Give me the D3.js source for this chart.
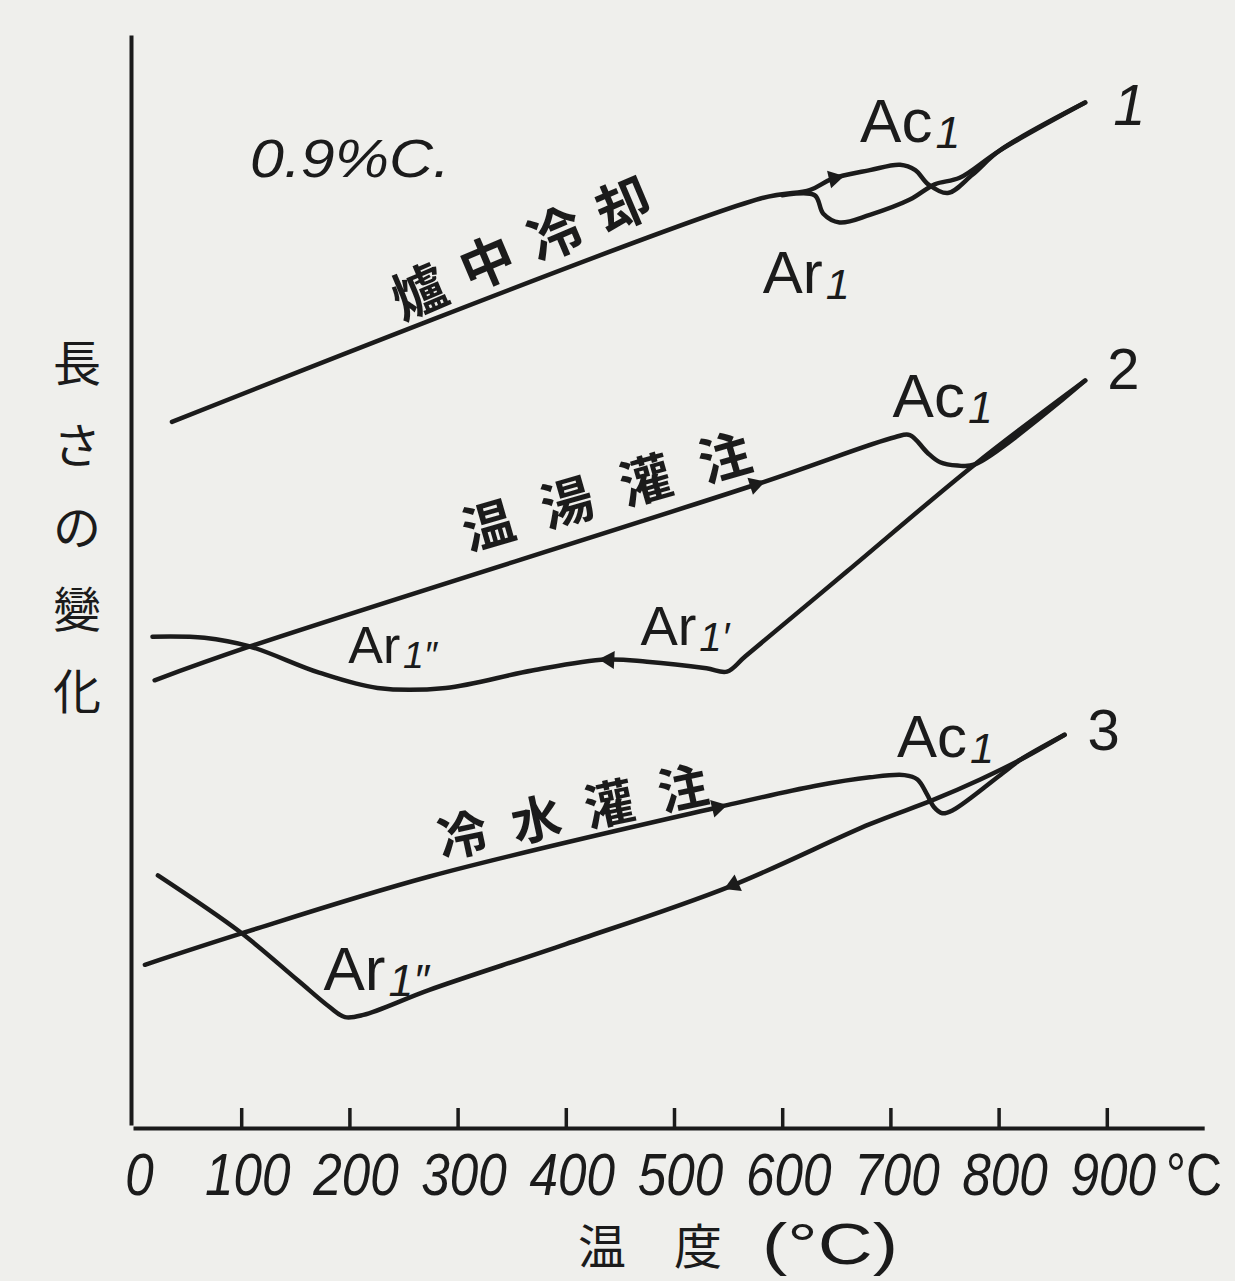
<!DOCTYPE html>
<html>
<head>
<meta charset="utf-8">
<script src="https://cdn.jsdelivr.net/npm/d3@7"></script>
<style>
  html, body { margin: 0; padding: 0; background: #efefec; }
  svg { display: block; }
</style>
</head>
<body>
<div id="chart"></div>
<script>
// temperature axis ticks (°C)
const tempTicks = [0, 100, 200, 300, 400, 500, 600, 700, 800, 900];

// curve 1 : furnace cooling  [temperature, length change (arb.)]
const furnaceHeat = [[36, 64.5], [580, 85.0], [626, 85.8], [646, 86.8], [681, 87.6], [709, 88.1], [723, 87.6],
                     [735, 86.3], [753, 85.5], [776, 87.2], [801, 89.4], [880, 93.8]];
const furnaceCool = [[880, 93.8], [801, 89.4], [764, 86.9], [741, 86.3], [718, 84.9], [681, 83.5], [653, 82.8],
                     [638, 83.6], [630, 85.3], [600, 85.3]];

// curve 2 : warm water quench
const warmHeat = [[20, 40.8], [108, 43.9], [580, 58.9], [704, 63.1], [718, 63.3], [734, 61.7], [746, 60.8],
                  [762, 60.5], [778, 60.6], [880, 68.3]];
const warmCool = [[880, 68.3], [778, 60.6], [660, 50.8], [566, 43.0], [549, 41.6], [530, 41.9], [475, 42.5],
                  [437, 42.7], [369, 41.7], [289, 40.1], [226, 40.1], [172, 41.5], [108, 43.9], [66, 44.7], [18, 44.8]];

// curve 3 : cold water quench
const coldHeat = [[11, 14.7], [101, 17.6], [274, 22.8], [543, 29.2], [630, 31.1], [681, 31.9], [713, 32.1],
                  [725, 31.7], [734, 30.3], [740, 29.2], [748, 28.6], [758, 28.9], [804, 32.3], [820, 33.5], [861, 35.8]];
const coldCool = [[861, 35.8], [820, 33.5], [783, 31.7], [739, 29.8], [681, 27.6], [552, 21.9], [400, 16.6],
                  [274, 12.4], [213, 10.1], [196, 9.9], [182, 10.8], [152, 13.3], [99, 17.7], [23, 22.9]];

const curveNames = ["1", "2", "3"];
const curveLabels = ["爐中冷却", "温湯灌注", "冷水灌注"];
const yLabelChars = ["長", "さ", "の", "變", "化"];

const W = 1235, H = 1281;
const ink = "#1b1b1b";

const svg = d3.select("#chart").append("svg")
    .attr("width", W)
    .attr("height", H)
    .style("background", "#efefec");

var x = d3.scaleLinear().domain([0, 990]).range([133, 133 + 990 * 1.082]);
var y = d3.scaleLinear().domain([0, 100]).range([1125, 35]);

// x axis (ticks point up)
var xAxis = svg.append("g")
    .attr("transform", `translate(0,${y(0) + 3})`)
    .call(d3.axisBottom(x).tickValues(tempTicks).tickSizeInner(-20).tickSizeOuter(0).tickFormat(d3.format("d")));
xAxis.select(".domain").attr("stroke", ink).attr("stroke-width", 4);
xAxis.selectAll(".tick line").attr("stroke", ink).attr("stroke-width", 3.5);
xAxis.selectAll(".tick text")
    .attr("fill", ink)
    .attr("font-family", "'Liberation Sans', Arial, sans-serif")
    .attr("font-style", "italic")
    .attr("font-size", 60)
    .attr("y", 67).attr("dy", 0)
    .attr("dx", 6)
    .attr("textLength", d => String(d).length * 28.5)
    .attr("lengthAdjust", "spacingAndGlyphs");
xAxis.select(".tick line").attr("opacity", 0); // no tick at origin

svg.append("text")
    .attr("x", 1166).attr("y", y(0) + 70)
    .attr("fill", ink)
    .attr("font-family", "'Liberation Sans', Arial, sans-serif")
    .attr("font-size", 60)
    .attr("textLength", 56).attr("lengthAdjust", "spacingAndGlyphs")
    .text("°C");

// y axis (no ticks)
var yAxis = svg.append("g")
    .attr("transform", `translate(${x(0) - 2},0)`)
    .call(d3.axisLeft(y).ticks(0).tickSizeOuter(0));
yAxis.select(".domain").attr("stroke", ink).attr("stroke-width", 4);

// axis titles
svg.append("text")
    .attr("x", 578).attr("y", 1264)
    .attr("fill", ink)
    .attr("font-family", "'Noto Sans CJK JP', sans-serif")
    .attr("font-size", 48)
    .text("温　度");
svg.append("text")
    .attr("x", 762).attr("y", 1264)
    .attr("fill", ink)
    .attr("font-family", "'Liberation Sans', Arial, sans-serif")
    .attr("font-size", 58)
    .attr("textLength", 136).attr("lengthAdjust", "spacingAndGlyphs")
    .text("(°C)");

svg.append("g").selectAll("text")
    .data(yLabelChars)
  .enter().append("text")
    .attr("x", 77)
    .attr("y", (d, i) => 360 + i * 82)
    .attr("text-anchor", "middle")
    .attr("dominant-baseline", "central")
    .attr("fill", ink)
    .attr("font-family", "'Noto Sans CJK JP', sans-serif")
    .attr("font-size", 48)
    .text(d => d);

// curves
var line = d3.line()
    .x(d => x(d[0]))
    .y(d => y(d[1]))
    .curve(d3.curveCatmullRom.alpha(0.5));

const series = { furnaceHeat, furnaceCool, warmHeat, warmCool, coldHeat, coldCool };

svg.append("g").selectAll("path")
    .data(Object.values(series))
  .enter().append("path")
    .attr("fill", "none")
    .attr("stroke", ink)
    .attr("stroke-width", 4.5)
    .attr("stroke-linejoin", "round")
    .attr("stroke-linecap", "round")
    .attr("d", line);

// direction arrows along the curves
function pointAt(pts, T) {
  for (let i = 0; i < pts.length - 1; i++) {
    const a = pts[i], b = pts[i + 1];
    if (a[0] !== b[0] && (T - a[0]) * (T - b[0]) <= 0) {
      const t = (T - a[0]) / (b[0] - a[0]);
      return {
        px: x(T), py: y(a[1] + t * (b[1] - a[1])),
        ang: Math.atan2(y(b[1]) - y(a[1]), x(b[0]) - x(a[0])) * 180 / Math.PI
      };
    }
  }
}
const arrows = [["furnaceHeat", 648], ["warmHeat", 575], ["warmCool", 440], ["coldHeat", 540], ["coldCool", 555]];
svg.append("g").selectAll("path")
    .data(arrows.map(a => pointAt(series[a[0]], a[1])))
  .enter().append("path")
    .attr("d", d3.symbol().type(d3.symbolTriangle).size(140))
    .attr("fill", ink)
    .attr("transform", d => `translate(${d.px},${d.py}) rotate(${d.ang + 90})`);

// curve numbers at the right end of each heating curve
const ends = [furnaceHeat, warmHeat, coldHeat].map(s => s[s.length - 1]);
const numOffset = [[28, 22], [22, 8], [23, 15]];
svg.append("g").selectAll("text")
    .data(curveNames)
  .enter().append("text")
    .attr("x", (d, i) => x(ends[i][0]) + numOffset[i][0])
    .attr("y", (d, i) => y(ends[i][1]) + numOffset[i][1])
    .attr("fill", ink)
    .attr("font-family", "'Liberation Sans', Arial, sans-serif")
    .attr("font-style", (d, i) => i === 0 ? "italic" : "normal")
    .attr("font-size", 58)
    .text(d => d);

// curve labels written along the heating lines
const labelPos = [
  { T: 366, v: 81.1, rot: -23, size: 54, ls: 20 },
  { T: 450, v: 58.8, rot: -16, size: 52, ls: 30 },
  { T: 417, v: 29.3, rot: -12, size: 50, ls: 25 }
];
svg.append("g").selectAll("text")
    .data(curveLabels)
  .enter().append("text")
    .attr("transform", (d, i) => `translate(${x(labelPos[i].T)},${y(labelPos[i].v)}) rotate(${labelPos[i].rot})`)
    .attr("text-anchor", "middle")
    .attr("dominant-baseline", "central")
    .attr("fill", ink)
    .attr("font-family", "'Noto Sans CJK JP', sans-serif")
    .attr("font-weight", 700)
    .attr("font-size", (d, i) => labelPos[i].size)
    .attr("letter-spacing", (d, i) => labelPos[i].ls)
    .text(d => d);

// transformation points
const phaseNotes = [
  { main: "Ac", primes: "",  T: 672, v: 90.2, size: 62 },
  { main: "Ar", primes: "",  T: 582, v: 76.3, size: 60 },
  { main: "Ac", primes: "",  T: 702, v: 65.0, size: 62 },
  { main: "Ar", primes: "′", T: 469, v: 44.0, size: 56 },
  { main: "Ar", primes: "″", T: 199, v: 42.4, size: 52 },
  { main: "Ac", primes: "",  T: 706, v: 33.8, size: 60 },
  { main: "Ar", primes: "″", T: 176, v: 12.4, size: 62 }
];
var notes = svg.append("g").selectAll("text")
    .data(phaseNotes)
  .enter().append("text")
    .attr("x", d => x(d.T))
    .attr("y", d => y(d.v))
    .attr("fill", ink)
    .attr("font-family", "'Liberation Sans', Arial, sans-serif")
    .attr("font-size", d => d.size);
notes.append("tspan").text(d => d.main);
notes.append("tspan")
    .attr("font-style", "italic")
    .attr("font-size", d => d.size * 0.72)
    .attr("dx", d => d.size * 0.05)
    .attr("dy", d => d.size * 0.1)
    .text(d => "1" + d.primes);

// carbon content
svg.append("text")
    .attr("x", 250).attr("y", 177)
    .attr("fill", ink)
    .attr("font-family", "'Liberation Sans', Arial, sans-serif")
    .attr("font-style", "italic")
    .attr("font-size", 54)
    .attr("textLength", 200).attr("lengthAdjust", "spacingAndGlyphs")
    .text("0.9%C.");
</script>
</body>
</html>
